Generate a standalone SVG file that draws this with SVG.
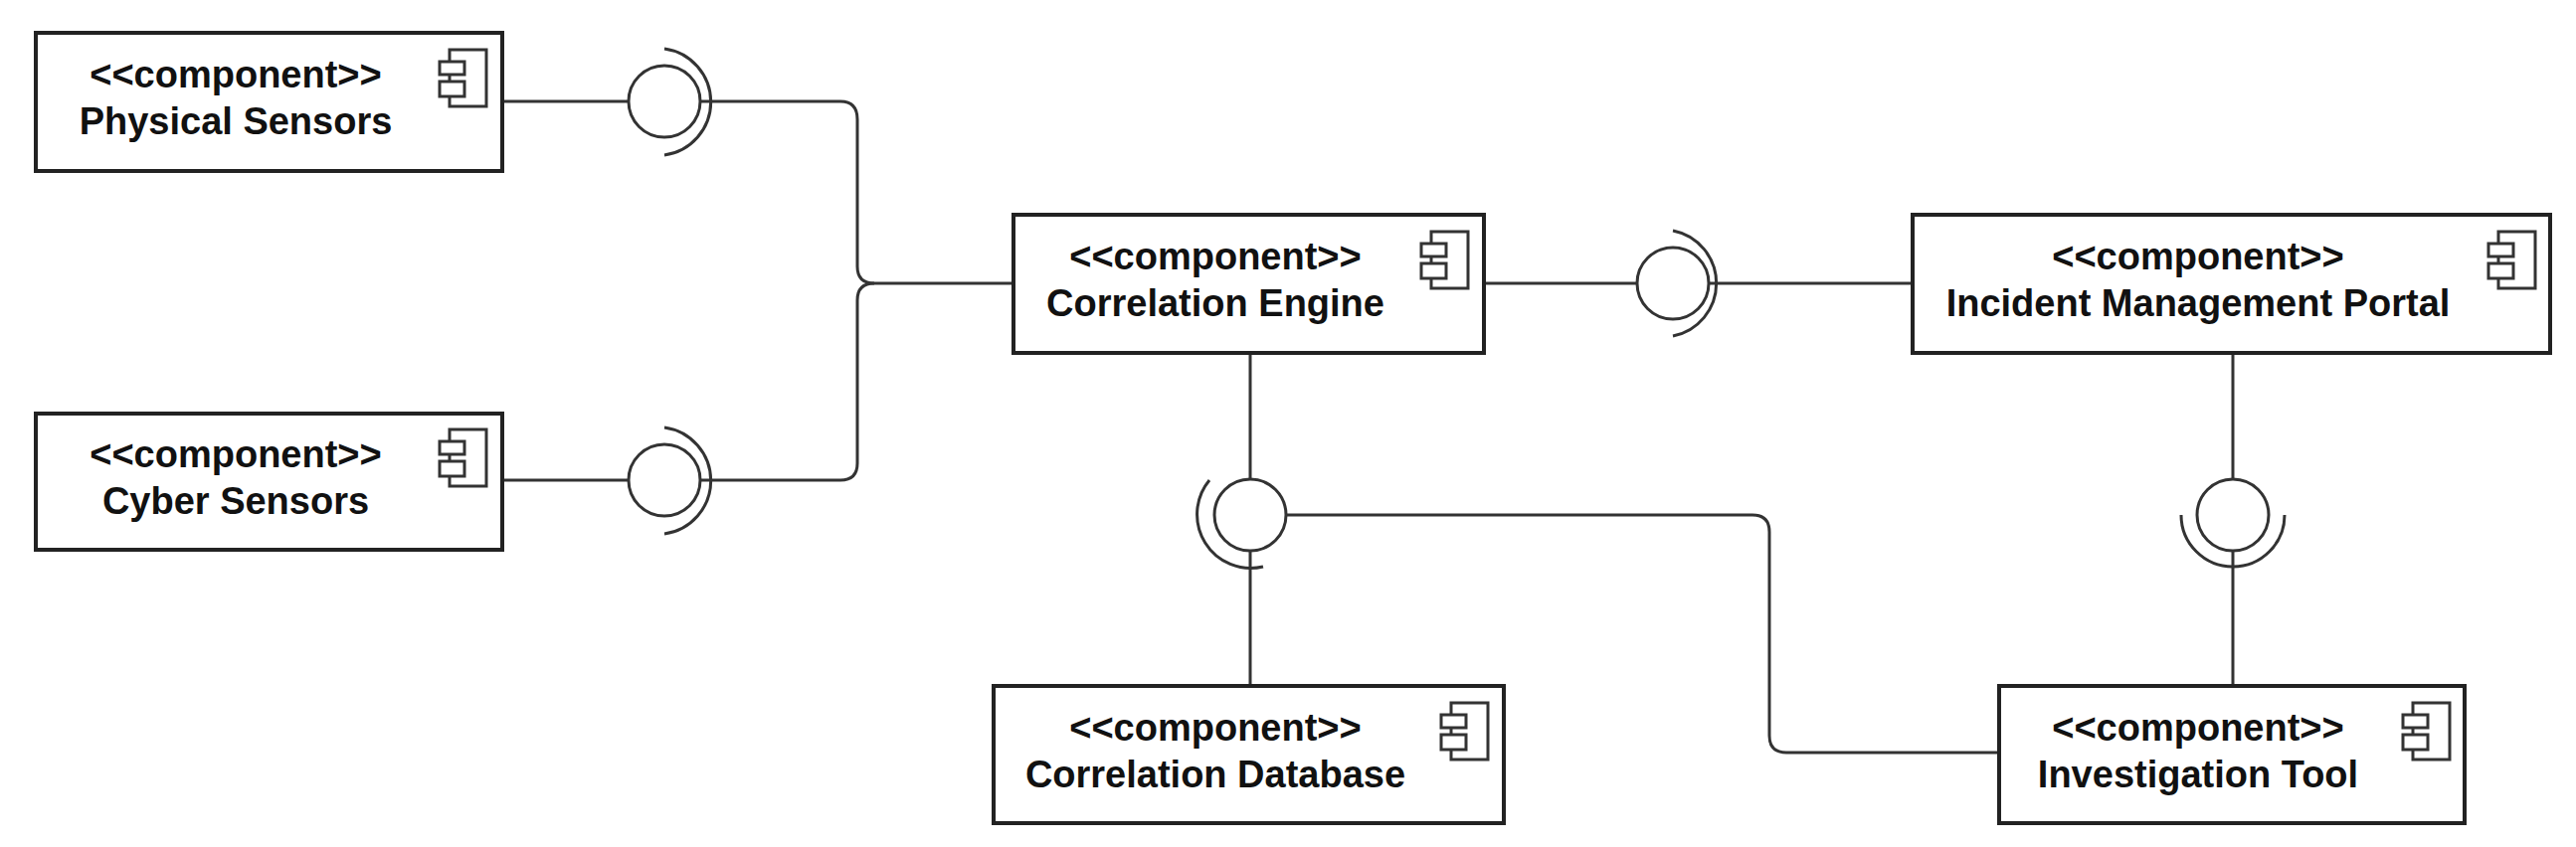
<svg xmlns="http://www.w3.org/2000/svg" width="2590" height="852" viewBox="0 0 2590 852">
<defs>
<style>
.box{fill:#fff;stroke:#222;stroke-width:4}
.ic{fill:#fff;stroke:#333;stroke-width:3}
.t{font-family:"Liberation Sans",Arial,sans-serif;font-weight:bold;font-size:38px;fill:#111;text-anchor:middle}
.ln{fill:none;stroke:#333;stroke-width:3}
</style>
<g id="icon">
<rect class="ic" x="10" y="0" width="37" height="57"/>
<rect class="ic" x="0" y="12" width="25" height="13"/>
<rect class="ic" x="0" y="32" width="25" height="15"/>
</g>
</defs>
<rect width="2590" height="852" fill="#fff"/>
<g id="connectors">
<path class="ln" d="M505 102 H632 M705 102 H845 Q862 102 862 120 V268 Q862 285 879 285 H1019"/>
<path class="ln" d="M505 483 H632 M705 483 H845 Q862 483 862 466 V302 Q862 285 879 285"/>
<path class="ln" d="M668 49 A54 54 0 0 1 668 156"/>
<path class="ln" d="M668 430 A54 54 0 0 1 668 537"/>
<circle class="ln" cx="668" cy="102" r="36"/>
<circle class="ln" cx="668" cy="483" r="36"/>
<path class="ln" d="M1492 285 H1646 M1718 285 H1923"/>
<circle class="ln" cx="1682" cy="285" r="36"/>
<path class="ln" d="M1682 232 A54 54 0 0 1 1682 338"/>
<path class="ln" d="M1257 355 V482 M1257 554 V690"/>
<circle class="ln" cx="1257" cy="518" r="36"/>
<path class="ln" d="M1216 483 A54 54 0 0 0 1270 570"/>
<path class="ln" d="M1293 518 H1762 Q1779 518 1779 535 V740 Q1779 757 1796 757 H2010"/>
<path class="ln" d="M2245 355 V482 M2245 554 V690"/>
<circle class="ln" cx="2245" cy="518" r="36"/>
<path class="ln" d="M2193 518 A52 52 0 0 0 2297 518"/>
</g>
<g id="physical">
<rect class="box" x="36" y="33" width="469" height="139"/>
<use href="#icon" x="442" y="50"/>
<text class="t" x="237" y="88">&lt;&lt;component&gt;&gt;</text>
<text class="t" x="237" y="135">Physical Sensors</text>
</g>
<g id="cyber">
<rect class="box" x="36" y="416" width="469" height="137"/>
<use href="#icon" x="442" y="432"/>
<text class="t" x="237" y="470">&lt;&lt;component&gt;&gt;</text>
<text class="t" x="237" y="517">Cyber Sensors</text>
</g>
<g id="engine">
<rect class="box" x="1019" y="216" width="473" height="139"/>
<use href="#icon" x="1429" y="233"/>
<text class="t" x="1222" y="271">&lt;&lt;component&gt;&gt;</text>
<text class="t" x="1222" y="318">Correlation Engine</text>
</g>
<g id="portal">
<rect class="box" x="1923" y="216" width="641" height="139"/>
<use href="#icon" x="2502" y="233"/>
<text class="t" x="2210" y="271">&lt;&lt;component&gt;&gt;</text>
<text class="t" x="2210" y="318">Incident Management Portal</text>
</g>
<g id="database">
<rect class="box" x="999" y="690" width="513" height="138"/>
<use href="#icon" x="1449" y="707"/>
<text class="t" x="1222" y="745">&lt;&lt;component&gt;&gt;</text>
<text class="t" x="1222" y="792">Correlation Database</text>
</g>
<g id="tool">
<rect class="box" x="2010" y="690" width="468" height="138"/>
<use href="#icon" x="2416" y="707"/>
<text class="t" x="2210" y="745">&lt;&lt;component&gt;&gt;</text>
<text class="t" x="2210" y="792">Investigation Tool</text>
</g>
</svg>
